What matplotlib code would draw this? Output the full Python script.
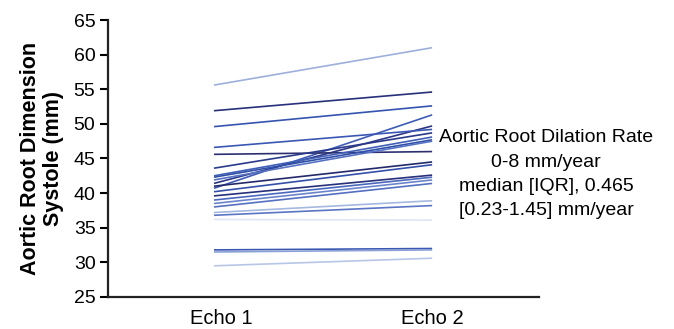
import matplotlib
matplotlib.use("Agg")
import matplotlib.pyplot as plt

plt.rcParams['font.family'] = ['Liberation Sans', 'DejaVu Sans']

categories = ["Echo 1", "Echo 2"]
echo1 = [55.6, 51.9, 49.6, 40.7, 41.4, 46.6, 45.6, 43.6, 42.5, 42.3, 41.9,
         41.0, 40.2, 39.6, 39.0, 38.5, 38.0, 37.2, 36.8, 36.2, 31.8, 31.5, 29.5]
echo2 = [61.0, 54.6, 52.6, 51.3, 49.7, 49.2, 46.0, 48.7, 48.1, 47.7, 47.5,
         44.5, 44.1, 42.6, 42.3, 41.9, 41.4, 38.9, 38.2, 36.1, 32.0, 31.8, 30.6]
colors = ['#9db0dc', '#27307a', '#3554b0', '#3d5cb8', '#2a3585', '#3a58b2',
          '#2c3070', '#2a3a8a', '#4060b8', '#3050a8', '#5572c4', '#232a6a',
          '#3350aa', '#27307a', '#4a68bd', '#6a85cc', '#5470c0', '#a5b8e0',
          '#5a75c4', '#dfe6f3', '#3a58b2', '#8aa0d6', '#b8c6e6']
yticks = [25, 30, 35, 40, 45, 50, 55, 60, 65]

fig = plt.figure(figsize=(6.74, 3.29), dpi=100)
ax = fig.add_axes([0.1602, 0.0973, 0.6395, 0.8419])

for a, b, c in zip(echo1, echo2, colors):
    ax.plot([1, 2], [a, b], color=c, lw=1.2, solid_capstyle='butt')

ax.set_xlim(0.514, 2.49)
ax.set_ylim(25, 65)
ax.set_yticks(yticks)
ax.set_xticks([1.035, 2.0])
ax.set_xticklabels(categories)
ax.tick_params(axis='x', length=0, labelsize=14.5, pad=9)
ax.tick_params(axis='y', length=6, width=1.5, labelsize=14, pad=3)
for s in ['top', 'right']:
    ax.spines[s].set_visible(False)
for s in ['left', 'bottom']:
    ax.spines[s].set_linewidth(1.6)
    ax.spines[s].set_color('#222222')

ax.set_ylabel("Aortic Root Dimension\nSystole (mm)", fontsize=15.5,
              fontweight='bold', labelpad=7, linespacing=1.1)

fig.text(0.810, 0.470,
         "Aortic Root Dilation Rate\n0-8 mm/year\nmedian [IQR], 0.465\n[0.23-1.45] mm/year",
         ha='center', va='center', fontsize=14, linespacing=1.56)

fig.savefig("out.png", dpi=100)
